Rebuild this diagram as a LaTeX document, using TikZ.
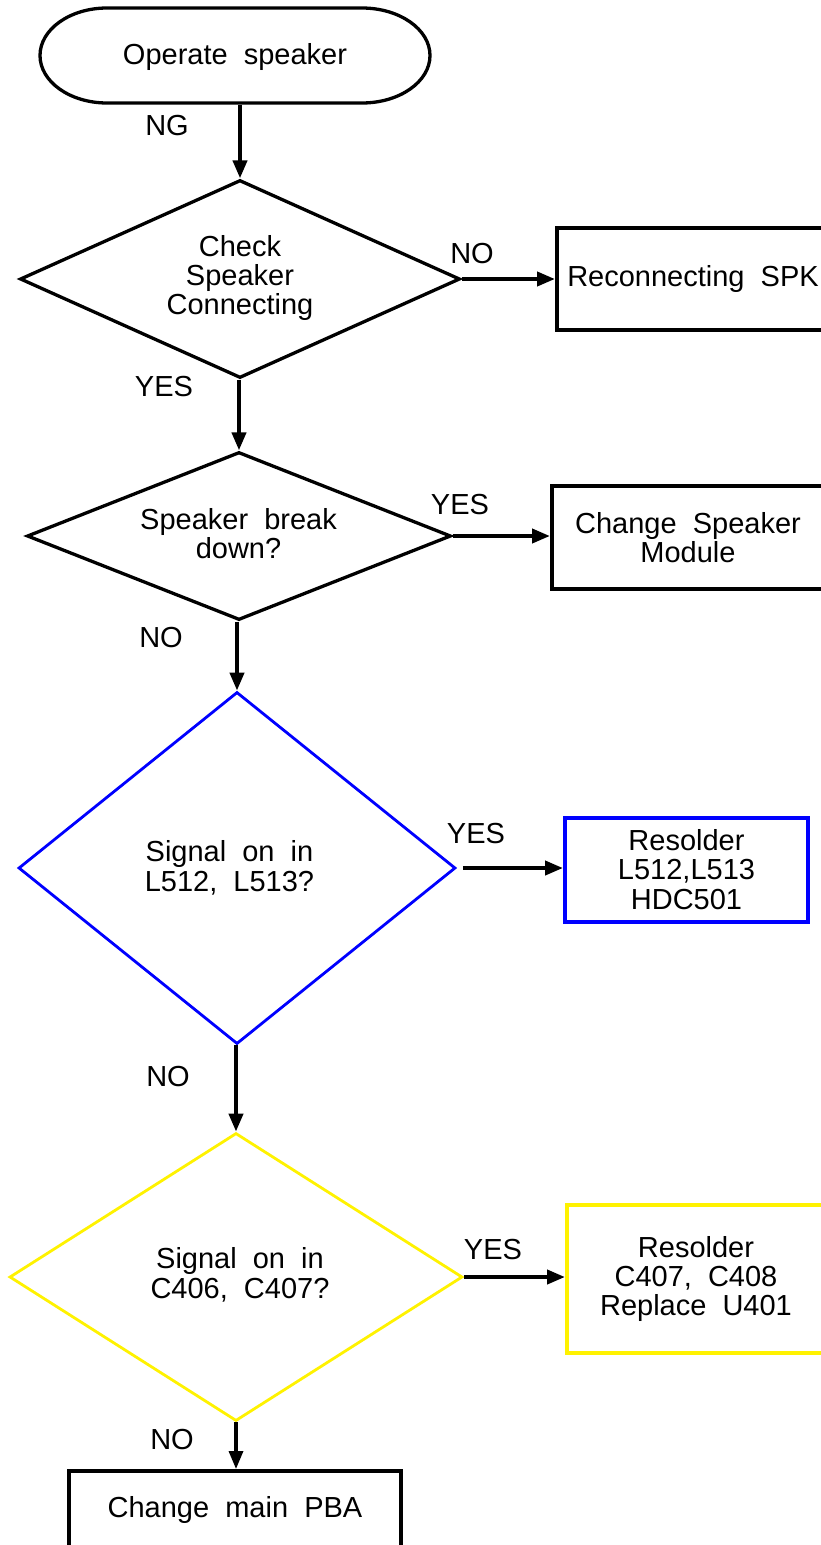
\documentclass[tikz,border=0pt]{standalone}
\usepackage{fontspec}
\setmainfont{Liberation Sans}[WordSpace=2]
\usetikzlibrary{shapes.geometric,arrows.meta}
\begin{document}
\begin{tikzpicture}[x=1pt,y=-1pt,
  font=\fontsize{29}{29}\selectfont,
  procbox/.style={draw,rectangle,line width=4pt,inner sep=0pt,align=center},
  decision/.style={draw,shape=diamond,inner sep=0pt,line width=3.3pt},
  dtext/.style={inner sep=0pt,align=center},
  edgelbl/.style={inner sep=0pt},
  flowarrow/.style={line width=4pt,-{Triangle[length=18pt,width=14pt]}}
]
\useasboundingbox (0,0) rectangle (821,1545);
\clip (0,0) rectangle (821,1545);

% start terminator
\node[inner sep=0pt,minimum width=390pt,minimum height=95pt] (start) at (235,57) {Operate speaker};
\draw[line width=3.3pt] (107,8) -- (362,8)
  .. controls (399.6,8) and (430,29.3) .. (430,55.5)
  .. controls (430,81.7) and (399.6,103) .. (362,103)
  -- (107,103)
  .. controls (70,103) and (40,81.7) .. (40,55.5)
  .. controls (40,29.3) and (70,8) .. (107,8) -- cycle;

% decisions
\node[decision,minimum width=440pt,minimum height=198pt] (d1) at (240,279) {};
\node[dtext] (d1t) at (240,278) {Check\\Speaker\\Connecting};

\node[decision,minimum width=424pt,minimum height=168pt] (d2) at (239,536) {};
\node[dtext] (d2t) at (238.5,534) {Speaker break\\down?};

\node[decision,draw=blue,line width=2.8pt,minimum width=437pt,minimum height=352pt] (d3) at (237,868) {};
\node[dtext,font=\fontsize{29}{29.5}\selectfont] (d3t) at (229.5,868) {Signal on in\\L512, L513?};

\node[decision,draw=yellow,line width=2.8pt,minimum width=453pt,minimum height=288pt] (d4) at (236,1277) {};
\node[dtext,font=\fontsize{29}{30}\selectfont] (d4t) at (240,1275) {Signal on in\\C406, C407?};

% boxes
\node[procbox,minimum width=272pt,minimum height=102pt] (b1) at (693,279) {Reconnecting SPK};
\node[procbox,minimum width=272pt,minimum height=103pt] (b2) at (688,537.5) {Change Speaker\\Module};
\node[procbox,draw=blue,minimum width=243pt,minimum height=104pt,font=\fontsize{29}{29.5}\selectfont] (b3) at (686.5,869.5) {Resolder\\L512,L513\\HDC501};
\node[procbox,draw=yellow,minimum width=258pt,minimum height=148pt] (b4) at (696,1279) {Resolder\\C407, C408\\Replace U401};
\node[procbox,minimum width=332pt,minimum height=78pt] (b5) at (235,1510) {Change main PBA};

% labels
\node[edgelbl] (lng) at (167,126) {NG};
\node[edgelbl] (l1) at (472,254) {NO};
\node[edgelbl] (l2) at (164,387) {YES};
\node[edgelbl] (l3) at (460,505) {YES};
\node[edgelbl] (l4) at (161,638) {NO};
\node[edgelbl] (l5) at (476,834) {YES};
\node[edgelbl] (l6) at (168,1077) {NO};
\node[edgelbl] (l7) at (493,1250) {YES};
\node[edgelbl] (l8) at (172,1439) {NO};

% connectors
\draw[flowarrow] (d1.north |- start.south) -- (d1.north);
\draw[flowarrow] (d1.east) -- (d1.east -| b1.west);
\draw[flowarrow] (d2.north |- d1.south) -- (d2.north);
\draw[flowarrow] (d2.east) -- (d2.east -| b2.west);
\draw[flowarrow] (d3.north |- d2.south) -- (d3.north);
\draw[flowarrow,shorten <=6pt] (d3.east) -- (d3.east -| b3.west);
\draw[flowarrow] (d4.north |- d3.south) -- (d4.north);
\draw[flowarrow] (d4.east) -- (d4.east -| b4.west);
\draw[flowarrow,line width=3.3pt] (d4.south) -- (d4.south |- b5.north);
\end{tikzpicture}
\end{document}
